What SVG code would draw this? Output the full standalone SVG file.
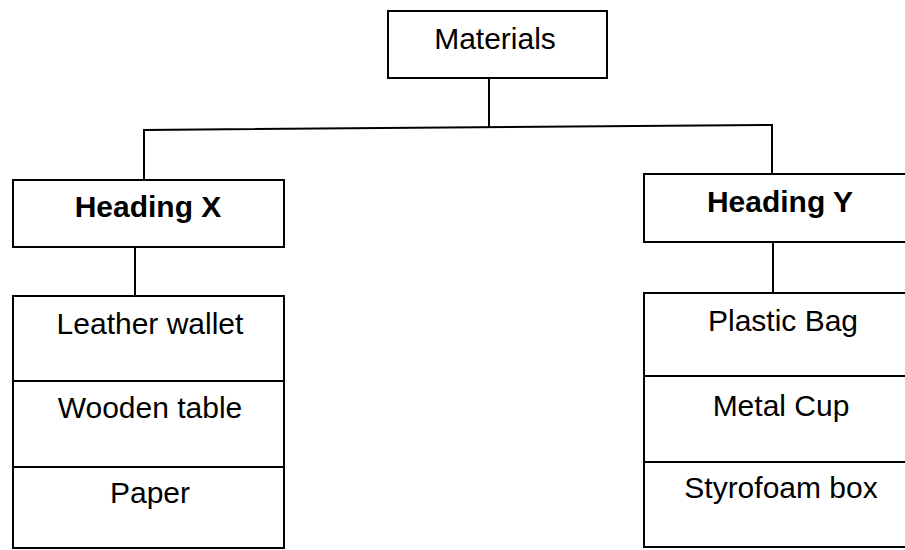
<svg xmlns="http://www.w3.org/2000/svg" width="905" height="550" viewBox="0 0 905 550">
<style>
.box{fill:#fff;stroke:#000;stroke-width:2}
.div{stroke:#000;stroke-width:2;fill:none}
.conn{stroke:#000;stroke-width:2;fill:none}
text{font-family:"Liberation Sans",Arial,sans-serif;font-size:30px;fill:#000;text-anchor:middle}
.b{font-weight:bold}
</style>
<rect width="905" height="550" fill="#fff"/>
<g id="connectors">
<path class="conn" d="M489,78 V128"/>
<path class="conn" d="M144,180 V130 L772,125 V174"/>
<path class="conn" d="M135,247 V296"/>
<path class="conn" d="M773,242 V293"/>
</g>
<g id="materials">
<rect class="box" x="388" y="11" width="219" height="67"/>
<text x="495" y="49">Materials</text>
</g>
<g id="heading-x">
<rect class="box" x="13" y="180" width="271" height="67"/>
<text class="b" x="148" y="217">Heading X</text>
</g>
<g id="heading-y">
<rect class="box" x="644" y="174" width="280" height="68"/>
<text class="b" x="780" y="212">Heading Y</text>
</g>
<g id="list-x">
<rect class="box" x="13" y="296" width="271" height="252"/>
<line class="div" x1="13" y1="381" x2="284" y2="381"/>
<line class="div" x1="13" y1="467" x2="284" y2="467"/>
<text x="150" y="334">Leather wallet</text>
<text x="150" y="418">Wooden table</text>
<text x="150" y="503">Paper</text>
</g>
<g id="list-y">
<rect class="box" x="644" y="293" width="280" height="254"/>
<line class="div" x1="644" y1="376" x2="924" y2="376"/>
<line class="div" x1="644" y1="462" x2="924" y2="462"/>
<text x="783" y="331">Plastic Bag</text>
<text x="781" y="416">Metal Cup</text>
<text x="781" y="498">Styrofoam box</text>
</g>
</svg>
